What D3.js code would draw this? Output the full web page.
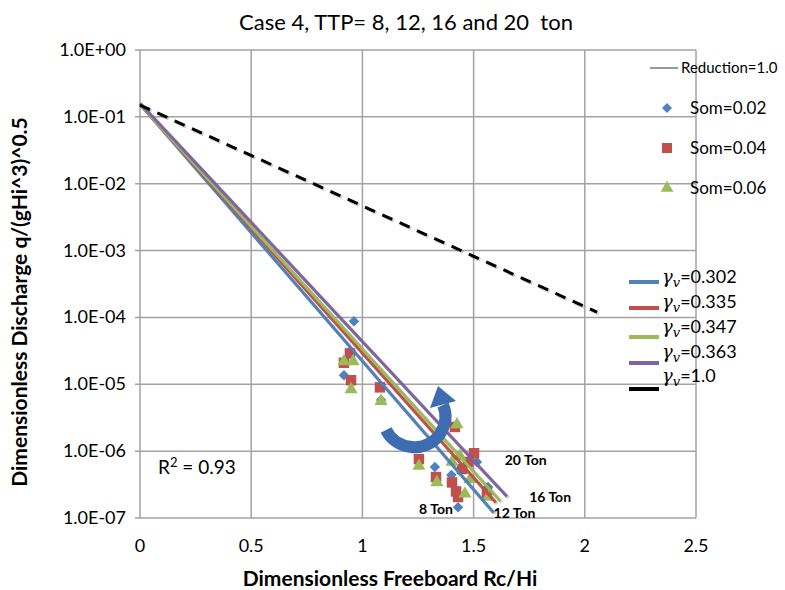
<!DOCTYPE html>
<html lang="en">
<head>
<meta charset="utf-8">
<title>Case 4</title>
<script src="https://d3js.org/d3.v7.min.js"></script>
<style>
  body { margin: 0; background: #fff; }
  text { font-family: Lato, "Open Sans", sans-serif; fill: #000; }
</style>
</head>
<body>
<div class="chart"></div>
<script>

var width = 785, height = 590;

// data
var xTicks = [0, 0.5, 1, 1.5, 2, 2.5];
var yTicks = [1e0, 1e-1, 1e-2, 1e-3, 1e-4, 1e-5, 1e-6, 1e-7];

var som02x = [0.962, 0.944, 0.917, 1.084, 1.326, 1.43, 1.515, 1.565, 1.40];
var som02y = [8.8e-5, 3.1e-5, 1.36e-5, 5.8e-6, 5.8e-7, 1.45e-7, 6.9e-7, 2.9e-7, 4.4e-7];

var som04x = [0.917, 0.944, 0.949, 1.079, 1.416, 1.502, 1.254, 1.331, 1.403, 1.421, 1.43, 1.475, 1.56, 1.448];
var som04y = [2.1e-5, 2.9e-5, 1.15e-5, 9.0e-6, 2.3e-6, 9.3e-7, 7.6e-7, 4.1e-7, 3.4e-7, 2.5e-7, 2.06e-7, 6.9e-7, 2.4e-7, 5.4e-7];

var som06x = [0.917, 0.958, 0.949, 1.084, 1.425, 1.254, 1.335, 1.461, 1.439, 1.403, 1.565, 1.484];
var som06y = [2.2e-5, 2.2e-5, 8.4e-6, 5.6e-6, 2.5e-6, 6.0e-7, 3.4e-7, 2.3e-7, 8.4e-7, 6.9e-7, 2.06e-7, 3.8e-7];

var gammaNames = ["0.302", "0.335", "0.347", "0.363", "1.0"];
var fitX0 = [0, 0, 0, 0, 0];
var fitY0 = [0.155, 0.155, 0.155, 0.16, 0.15];
var fitX1 = [1.59, 1.60, 1.62, 1.65, 2.055];
var fitY1 = [1.2e-7, 1.7e-7, 1.8e-7, 2.1e-7, 1.2e-4];
var fitColors = ["#4f81bd", "#c0504d", "#9bbb59", "#8064a2", "#000"];

var tonLabels = ["20 Ton", "16 Ton", "12 Ton", "8 Ton"];
var tonX = [1.64, 1.75, 1.59, 1.255];
var tonY = [6.2e-7, 1.75e-7, 1.0e-7, 1.15e-7];

var svg = d3.select(".chart").append("svg")
    .attr("width", width)
    .attr("height", height);

var x = d3.scaleLinear().domain([0, 2.5]).range([140, 696]);
var y = d3.scaleLog().domain([1e-7, 1]).range([518, 50]);

var grid = svg.append("g");
grid.selectAll("line.h")
  .data(yTicks)
  .enter().append("line")
  .attr("x1", 135).attr("x2", 696)
  .attr("y1", d => y(d)).attr("y2", d => y(d))
  .attr("stroke", "#a3a3a3").attr("stroke-width", 1.5);
grid.selectAll("line.v")
  .data(xTicks)
  .enter().append("line")
  .attr("x1", d => x(d)).attr("x2", d => x(d))
  .attr("y1", 50).attr("y2", 518)
  .attr("stroke", "#a3a3a3").attr("stroke-width", 1.5);

// tick labels
var expFmt = function(d) {
  var e = Math.round(Math.log10(d));
  return "1.0E" + (e < 0 ? "-" : "+") + String(Math.abs(e)).padStart(2, "0");
};
svg.append("g").selectAll("text")
  .data(yTicks)
  .enter().append("text")
  .attr("x", 126).attr("y", d => y(d) + 6)
  .attr("text-anchor", "end")
  .style("font-size", "18px")
  .text(expFmt);

svg.append("g").selectAll("text")
  .data(xTicks)
  .enter().append("text")
  .attr("x", d => x(d)).attr("y", 552)
  .attr("text-anchor", "middle")
  .style("font-size", "18px")
  .text(d => String(d));

// title and axis titles
svg.append("text")
  .attr("x", 406).attr("y", 30)
  .attr("text-anchor", "middle")
  .style("font-size", "22px").style("white-space", "pre")
  .attr("fill", "#222")
  .text("Case 4, TTP= 8, 12, 16 and 20  ton");

svg.append("text")
  .attr("x", 390).attr("y", 586)
  .attr("text-anchor", "middle")
  .style("font-size", "21px").style("font-weight", "bold")
  .text("Dimensionless Freeboard Rc/Hi");

svg.append("text")
  .attr("transform", "translate(27,302) rotate(-90)")
  .attr("text-anchor", "middle")
  .style("font-size", "21px").style("font-weight", "bold")
  .text("Dimensionless Discharge q/(gHi^3)^0.5");

// scatter
function drawPoints(xs, ys, type, size, rot, color) {
  var pts = xs.map((v, i) => ({x: v, y: ys[i]}));
  svg.append("g").selectAll("path")
    .data(pts)
    .enter().append("path")
    .attr("d", d3.symbol().type(type).size(size))
    .attr("transform", d => "translate(" + x(d.x) + "," + y(d.y) + ") rotate(" + rot + ")")
    .attr("fill", color);
}
drawPoints(som02x, som02y, d3.symbolSquare, 55, 45, "#4f81bd");
drawPoints(som04x, som04y, d3.symbolSquare, 110, 0, "#c0504d");
drawPoints(som06x, som06y, d3.symbolTriangle, 75, 0, "#9bbb59");

// fitted lines
var lines = gammaNames.map((g, i) => ({
  pts: [[fitX0[i], fitY0[i]], [fitX1[i], fitY1[i]]],
  color: fitColors[i],
  dashed: g === "1.0"
}));
var lineGen = d3.line().x(d => x(d[0])).y(d => y(d[1]));

var lg = svg.append("g");
lg.selectAll("path.shadow")
  .data(lines)
  .enter().append("path")
  .attr("d", d => lineGen(d.pts))
  .attr("transform", "translate(1.5,1.5)")
  .attr("fill", "none")
  .attr("stroke", "rgba(0,0,0,0.18)")
  .attr("stroke-width", 3.5)
  .attr("stroke-dasharray", d => d.dashed ? "11,8" : null);
lg.selectAll("path.fit")
  .data(lines)
  .enter().append("path")
  .attr("d", d => lineGen(d.pts))
  .attr("fill", "none")
  .attr("stroke", d => d.color)
  .attr("stroke-width", 3)
  .attr("stroke-dasharray", d => d.dashed ? "11,8" : null);

// curved arrow
var arrow = svg.append("g");
arrow.append("path")
  .attr("d", "M386,430 C396,450 426,454 440,434 C447,423 447,414 443,405")
  .attr("fill", "none")
  .attr("stroke", "#3d6db0")
  .attr("stroke-width", 12);
arrow.append("path")
  .attr("d", "M430,408 L438,386 L456,401 Z")
  .attr("fill", "#3d6db0");

// ton labels
svg.append("g").selectAll("text")
  .data(tonLabels)
  .enter().append("text")
  .attr("x", (d, i) => x(tonX[i]))
  .attr("y", (d, i) => y(tonY[i]))
  .style("font-size", "14px").style("font-weight", "bold")
  .text(d => d);

// R2
var r2 = svg.append("text")
  .attr("x", 158).attr("y", 474)
  .style("font-size", "19px");
r2.append("tspan").text("R");
r2.append("tspan").attr("dy", -7).style("font-size", "13px").text("2");
r2.append("tspan").attr("dy", 7).text(" = 0.93");

// legend, upper
var leg1 = svg.append("g");
leg1.append("line")
  .attr("x1", 650).attr("x2", 678).attr("y1", 68).attr("y2", 68)
  .attr("stroke", "#777").attr("stroke-width", 1.5);
leg1.append("text").attr("x", 681).attr("y", 73)
  .style("font-size", "15px").text("Reduction=1.0");

var somNames = ["Som=0.02", "Som=0.04", "Som=0.06"];
var somSym = [d3.symbolSquare, d3.symbolSquare, d3.symbolTriangle];
var somSize = [50, 100, 70];
var somRot = [45, 0, 0];
var somCol = ["#4f81bd", "#c0504d", "#9bbb59"];
somNames.forEach(function(n, i) {
  var yy = 108 + i * 40;
  leg1.append("path")
    .attr("d", d3.symbol().type(somSym[i]).size(somSize[i]))
    .attr("transform", "translate(667," + yy + ") rotate(" + somRot[i] + ")")
    .attr("fill", somCol[i]);
  leg1.append("text").attr("x", 690).attr("y", yy + 6)
    .style("font-size", "17px").text(n);
});

// legend, lower
var leg2 = svg.append("g");
var legY = [282, 308, 337, 363, 389];
gammaNames.forEach(function(g, i) {
  leg2.append("line")
    .attr("x1", 629).attr("x2", 659)
    .attr("y1", legY[i]).attr("y2", legY[i])
    .attr("stroke", fitColors[i]).attr("stroke-width", 4);
  var t = leg2.append("text")
    .attr("x", 662).attr("y", [283, 308, 333, 358, 382][i])
    .style("font-size", "18px");
  t.append("tspan").style("font-family", "'DejaVu Serif', serif").style("font-style", "italic").text("γ");
  t.append("tspan").attr("dy", 4).style("font-family", "'DejaVu Serif', serif")
    .style("font-style", "italic").style("font-size", "13px").text("v");
  t.append("tspan").attr("dy", -4).text("=" + g);
});

</script>
</body>
</html>
